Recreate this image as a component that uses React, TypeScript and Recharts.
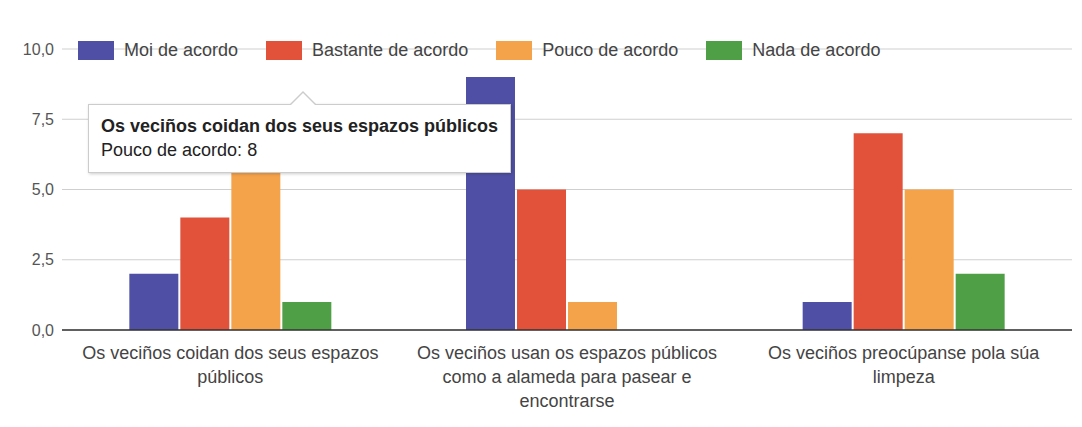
import { BarChart, Bar, XAxis, YAxis, CartesianGrid, Tooltip, Legend, Text } from 'recharts';

const categories = [
  'Os veciños coidan dos seus espazos públicos',
  'Os veciños usan os espazos públicos como a alameda para pasear e encontrarse',
  'Os veciños preocúpanse pola súa limpeza',
];
const moi = [2, 9, 1];
const bastante = [4, 5, 7];
const pouco = [8, 1, 5];
const nada = [1, 0, 2];
const yTicks = [0, 2.5, 5, 7.5, 10];

const series = [
  { key: 'moi', name: 'Moi de acordo', color: '#4f50a5' },
  { key: 'bastante', name: 'Bastante de acordo', color: '#e2523b' },
  { key: 'pouco', name: 'Pouco de acordo', color: '#f5a34a' },
  { key: 'nada', name: 'Nada de acordo', color: '#4f9f47' },
];

const data = categories.map((c, i) => ({
  name: c, moi: moi[i], bastante: bastante[i], pouco: pouco[i], nada: nada[i],
}));

const font = '"Liberation Sans", Arial, sans-serif';

function CatTick({ x, y, payload }: any) {
  return (
    <Text x={x} y={y + 8} width={294} textAnchor="middle" verticalAnchor="start"
      style={{ fontSize: 18, fontFamily: font }} fill="#444" lineHeight={24}>
      {payload.value}
    </Text>
  );
}

function LegendBox() {
  return (
    <div style={{ display: 'flex', gap: 28, fontFamily: font, fontSize: 18, color: '#444' }}>
      {series.map(s => (
        <div key={s.key} style={{ display: 'flex', alignItems: 'center' }}>
          <span style={{ width: 36, height: 19, background: s.color, marginRight: 10, display: 'inline-block' }} />
          {s.name}
        </div>
      ))}
    </div>
  );
}

function TipBox({ payload, label }: any) {
  const p = (payload || []).find((e: any) => e.dataKey === 'pouco');
  if (!p) return null;
  return (
    <div style={{
      position: 'relative', background: '#fff', border: '1px solid #ccc',
      boxShadow: '1px 1px 3px rgba(0,0,0,0.2)',
      padding: '9px 12px 10px', fontFamily: font, fontSize: 18, color: '#222', lineHeight: '24px',
    }}>
      <div style={{
        position: 'absolute', left: 200, top: -14, width: 0, height: 0,
        borderLeft: '14px solid transparent', borderRight: '14px solid transparent',
        borderBottom: '14px solid #ccc',
      }} />
      <div style={{
        position: 'absolute', left: 201, top: -12, width: 0, height: 0,
        borderLeft: '13px solid transparent', borderRight: '13px solid transparent',
        borderBottom: '13px solid #fff',
      }} />
      <div style={{ fontWeight: 'bold' }}>{label}</div>
      <div>{p.name}: {p.value}</div>
    </div>
  );
}

export default function App() {
  return (
    <div style={{ position: 'absolute', left: 0, top: 0 }}>
      <BarChart width={1082} height={427} data={data}
        margin={{ top: 28, right: 10, left: 0, bottom: 2 }}
        barCategoryGap="20%" barGap={2}>
        <CartesianGrid vertical={false} stroke="#cfcfcf" />
        <XAxis dataKey="name" tick={<CatTick />} interval={0} height={95}
          axisLine={{ stroke: '#333', strokeWidth: 1.5 }} tickLine={false} />
        <YAxis domain={[0, 10]} ticks={yTicks} width={62} axisLine={false} tickLine={false}
          tickFormatter={(v: number) => v.toFixed(1).replace('.', ',')}
          tick={{ fontSize: 16, fill: '#555', fontFamily: font }} />
        <Legend verticalAlign="top" content={<LegendBox />}
          wrapperStyle={{ top: 40, left: 78, width: 'auto' }} />
        <Tooltip active defaultIndex={0} content={<TipBox />} cursor={false}
          position={{ x: 88, y: 104 }} isAnimationActive={false} />
        {series.map(s => (
          <Bar key={s.key} dataKey={s.key} name={s.name} fill={s.color} isAnimationActive={false} />
        ))}
      </BarChart>
    </div>
  );
}
